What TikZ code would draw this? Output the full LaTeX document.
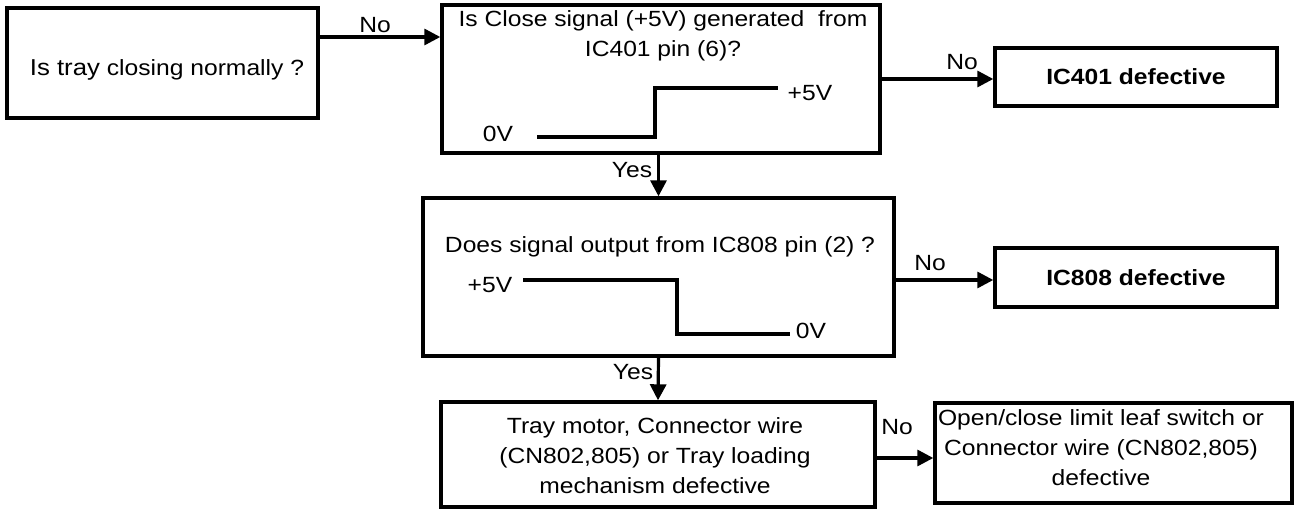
\documentclass[tikz,border=0pt]{standalone}
\usepackage{fontspec}
\setmainfont{Liberation Sans}[FakeStretch=1.12]
\usetikzlibrary{arrows.meta}
\begin{document}
\begin{tikzpicture}[x=1pt,y=-1pt,
  box/.style={draw,line width=3.4pt,inner sep=0pt},
  txt/.style={align=center,font=\fontsize{22}{30}\selectfont,inner sep=0pt},
  btxt/.style={align=center,font=\fontsize{22}{30}\selectfont\bfseries,inner sep=0pt},
  lbl/.style={font=\fontsize{22}{26}\selectfont,inner sep=0pt},
  arr/.style={line width=3.2pt,-{Triangle[length=16pt,width=16pt]}},
  wave/.style={line width=3.2pt}]
\useasboundingbox[fill=white] (0,0) rectangle (1294,510);
% boxes
\node[box,minimum width=311pt,minimum height=110pt] (A) at (162.5,63) {};
\node[txt] (At) at (167,70) {\fontsize{23}{30}\selectfont Is tray\fontsize{22}{30}\selectfont{} closing normally ?};
\node[box,minimum width=438pt,minimum height=148pt] (B) at (661,79) {};
\node[txt] (Bt) at (663,36) {Is Close signal (+5V) generated\ \ from\\IC401 pin (6)?};
\node[box,btxt,minimum width=282pt,minimum height=58pt] (C) at (1136,77) {IC401 defective};
\node[box,minimum width=471pt,minimum height=158pt] (D) at (658.5,277) {};
\node[txt] (Dt) at (660,247) {Does signal output from IC808 pin (2) ?};
\node[box,btxt,minimum width=282pt,minimum height=59pt] (E) at (1136,277.5) {IC808 defective};
\node[box,minimum width=434pt,minimum height=105pt] (F) at (658,454.5) {};
\node[txt] (Ft) at (655,456) {Tray motor, Connector wire\\(CN802,805) or Tray loading\\mechanism defective};
\node[box,minimum width=357pt,minimum height=100pt] (G) at (1113.5,453) {};
\node[txt] (Gt) at (1101,448) {Open/close limit leaf switch or\\Connector wire (CN802,805)\\defective};
% waveforms
\draw[wave] (537,137) -- (655,137) -- (655,88) -- (778,88);
\node[lbl] (b0) at (498,134) {0V};
\node[lbl] (b5) at (810,93) {+5V};
\draw[wave] (523,280) -- (677,280) -- (677,334) -- (790,334);
\node[lbl] (d5) at (490,285) {+5V};
\node[lbl] (d0) at (811,331) {0V};
% connectors
\draw[arr] (A.east |- 0,37) -- (B.west |- 0,37);
\node[lbl] (n1) at (375,25) {No};
\draw[arr] (B.east |- 0,79) -- (C.west |- 0,79);
\node[lbl] (n2) at (962,62) {No};
\draw[arr] (B.south -| D.north) -- (D.north);
\node[lbl] (y1) at (632,170) {Yes};
\draw[arr] (D.east |- 0,280) -- (E.west |- 0,280);
\node[lbl] (n3) at (930,263) {No};
\draw[arr] (D.south) -- (F.north);
\node[lbl] (y2) at (633,372) {Yes};
\draw[arr] (F.east |- 0,458) -- (G.west |- 0,458);
\node[lbl] (n4) at (897,427) {No};
\end{tikzpicture}
\end{document}
